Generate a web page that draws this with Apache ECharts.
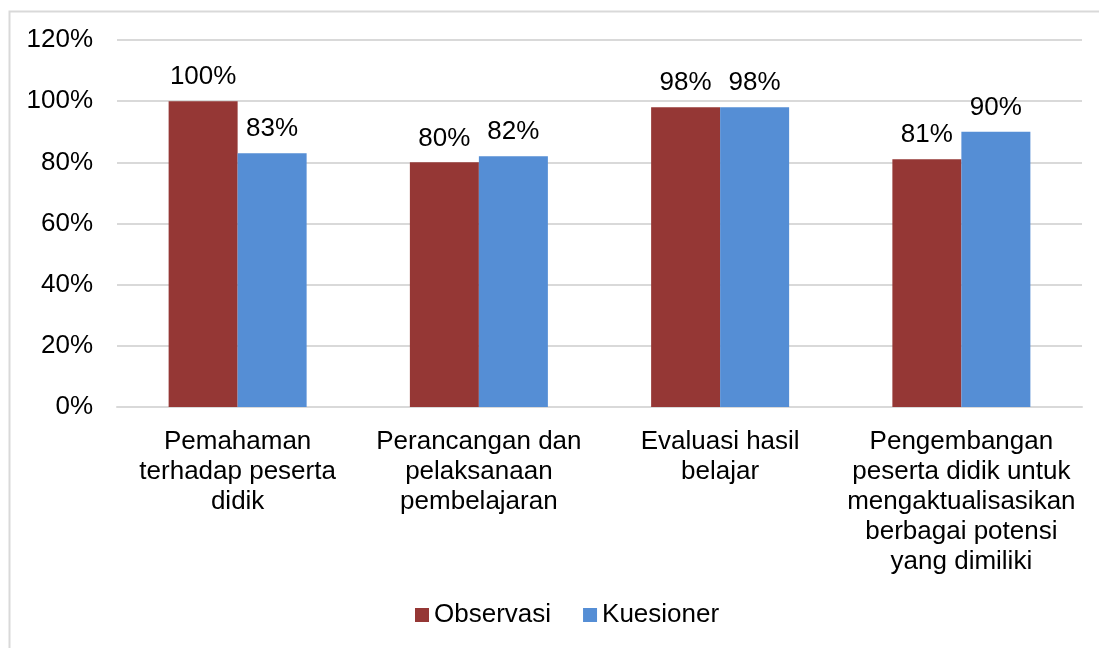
<!DOCTYPE html>
<html>

<head>
    <meta charset="utf-8">
    <title>ECharts</title>
    <script src="https://cdn.jsdelivr.net/npm/echarts@6/dist/echarts.min.js"></script>
</head>

<body style="margin:0;">
    <div id="main" style="width: 1099px;height:648px;"></div>
    <script type="text/javascript">
        var categories = [
            'Pemahaman\nterhadap peserta\ndidik',
            'Perancangan dan\npelaksanaan\npembelajaran',
            'Evaluasi hasil\nbelajar',
            'Pengembangan\npeserta didik untuk\nmengaktualisasikan\nberbagai potensi\nyang dimiliki'
        ];
        var observasi = [100, 80, 98, 81];
        var kuesioner = [83, 82, 98, 90];

        var chartDom = document.getElementById('main');
        var myChart = echarts.init(chartDom);
        var font = 'Liberation Sans, Arial, sans-serif';

        var labelStyle = {
            show: true,
            position: 'top',
            distance: 11,
            color: '#000',
            fontSize: 26,
            fontFamily: font,
            formatter: '{c}%'
        };

        var option = {
            animation: false,
            textStyle: { fontFamily: font },
            graphic: [{
                type: 'rect',
                left: 7,
                top: 9,
                shape: { width: 1100, height: 650 },
                style: { fill: 'none', stroke: '#d9d9d9', lineWidth: 2 }
            }],
            legend: {
                bottom: 15,
                left: 410,
                icon: 'rect',
                itemWidth: 14,
                itemHeight: 14,
                itemGap: 32,
                textStyle: { fontSize: 26, color: '#000', fontFamily: font },
                data: ['Observasi', 'Kuesioner']
            },
            grid: {
                left: 117,
                right: 17,
                top: 40,
                bottom: 241
            },
            xAxis: {
                type: 'category',
                data: categories,
                axisTick: { show: false },
                axisLine: { lineStyle: { color: '#d9d9d9', width: 2 } },
                axisLabel: {
                    interval: 0,
                    color: '#000',
                    fontSize: 26,
                    lineHeight: 30,
                    margin: 20
                }
            },
            yAxis: {
                type: 'value',
                min: 0,
                max: 120,
                interval: 20,
                axisLine: { show: false },
                axisTick: { show: false },
                splitLine: { lineStyle: { color: '#d9d9d9', width: 2 } },
                axisLabel: {
                    formatter: '{value}%',
                    color: '#000',
                    fontSize: 26,
                    margin: 24
                }
            },
            series: [{
                name: 'Observasi',
                type: 'bar',
                data: observasi,
                barWidth: 69,
                barGap: '0%',
                itemStyle: { color: '#953735' },
                label: labelStyle
            }, {
                name: 'Kuesioner',
                type: 'bar',
                data: kuesioner,
                barWidth: 69,
                itemStyle: { color: '#558ED5' },
                label: labelStyle
            }]
        };

        option && myChart.setOption(option);
    </script>
</body>

</html>
